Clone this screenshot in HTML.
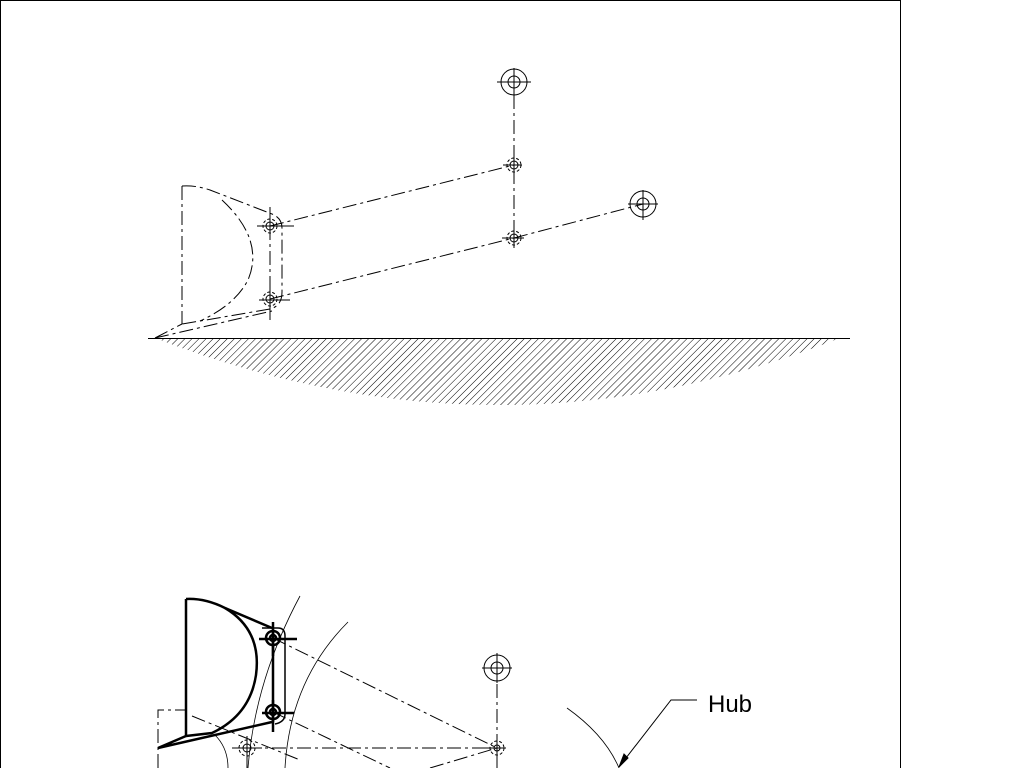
<!DOCTYPE html>
<html><head><style>html,body{margin:0;padding:0;background:#fff;width:1024px;height:768px;overflow:hidden}</style></head>
<body>
<svg width="1024" height="768" viewBox="0 0 1024 768" xmlns="http://www.w3.org/2000/svg" font-family="Liberation Sans, sans-serif">
<defs>
<pattern id="h" width="5" height="5" patternUnits="userSpaceOnUse" patternTransform="rotate(45)">
<line x1="0" y1="0" x2="0" y2="5" stroke="#000" stroke-width="1"/>
</pattern>
<clipPath id="c"><path d="M155 338 L840 338 Q500 472 155 338 Z"/></clipPath>
</defs>
<g fill="none" stroke="#000">
<line x1="0" y1="0.5" x2="900" y2="0.5"/>
<line x1="900.5" y1="0" x2="900.5" y2="768"/>
<line x1="0.5" y1="0" x2="0.5" y2="768"/>

<rect x="150" y="338" width="700" height="80" fill="url(#h)" stroke="none" clip-path="url(#c)"/>
<line x1="148" y1="338.5" x2="850" y2="338.5"/>
<g stroke-dasharray="14,4,3,4">
<line x1="514" y1="95" x2="514" y2="238"/>
<line x1="270" y1="226" x2="514" y2="165"/>
<line x1="270" y1="299" x2="514" y2="238"/>
<line x1="514" y1="238" x2="643" y2="204"/>
<line x1="182" y1="186" x2="182" y2="324"/>
<path d="M182 186 Q195 185 210 190 L272 214 Q282 218 282 228 L282 292 Q282 306 270 309 L200 321 L182 324"/>
<path d="M222 200 Q265 240 248 280 Q235 305 200 321"/>
<path d="M155 338 L182 324 M155 338 L272 311"/>
<line x1="270" y1="226" x2="270" y2="299"/>
</g>
<g>
<circle cx="514" cy="82" r="13"/><circle cx="514" cy="82" r="6"/>
<line x1="497" y1="82" x2="531" y2="82"/><line x1="514" y1="68" x2="514" y2="96"/>
<circle cx="643" cy="204" r="13"/><circle cx="643" cy="204" r="6"/>
<line x1="628" y1="204" x2="658" y2="204"/><line x1="643" y1="190" x2="643" y2="220"/>
<circle cx="514" cy="165" r="7" stroke-dasharray="3,2"/><circle cx="514" cy="165" r="4"/>
<line x1="503" y1="165" x2="522" y2="165"/><line x1="514" y1="157" x2="514" y2="173"/>
<circle cx="514" cy="238" r="7" stroke-dasharray="3,2"/><circle cx="514" cy="238" r="4"/>
<line x1="502" y1="238" x2="524" y2="238"/><line x1="514" y1="229" x2="514" y2="248"/>
<circle cx="270" cy="226" r="7" stroke-dasharray="3,2"/><circle cx="270" cy="226" r="4"/>
<line x1="257" y1="226" x2="294" y2="226"/><line x1="270" y1="207" x2="270" y2="234"/>
<circle cx="270" cy="299" r="7" stroke-dasharray="3,2"/><circle cx="270" cy="299" r="4"/>
<line x1="259" y1="300" x2="290" y2="300"/><line x1="270" y1="290" x2="270" y2="320"/>
</g>

<g stroke-width="0.8">
<path d="M300 596 Q255 680 248 768"/>
<path d="M348 622 Q290 680 285 768"/>
<path d="M215 735 Q228 748 228 768"/>
<path d="M567 708 Q605 735 619 768"/>
</g>
<g stroke-dasharray="14,4,3,4">
<line x1="273" y1="638" x2="497" y2="748"/>
<line x1="273" y1="712" x2="390" y2="768"/>
<line x1="247" y1="748" x2="497" y2="748"/>
<line x1="430" y1="768" x2="497" y2="748"/>
<line x1="497" y1="684" x2="497" y2="768"/>
<path d="M158 768 L158 710 L185 710"/>
<line x1="192" y1="716" x2="300" y2="760"/>
</g>
<g stroke-width="2.5">
<line x1="186" y1="599" x2="186" y2="736"/>
<path d="M186 599 Q205 598 225 608 L272 628"/>
<path d="M225 608 Q262 630 256 675 Q250 715 212 733 L186 736"/>
<path d="M158 748 L186 736 M158 748 L272 722"/>
<line x1="273" y1="630" x2="273" y2="722"/>
</g>
<path d="M262 628 L278 628 Q285 628 285 636 L285 714 Q285 722 275 724" stroke-width="1.5"/>
<g stroke-width="2.5">
<circle cx="273" cy="638" r="7"/><circle cx="273" cy="638" r="3"/>
<line x1="259" y1="639" x2="297" y2="639"/><line x1="273" y1="622" x2="273" y2="656"/>
<circle cx="273" cy="712" r="7"/><circle cx="273" cy="712" r="3"/>
<line x1="262" y1="713" x2="294" y2="713"/><line x1="273" y1="700" x2="273" y2="732"/>
</g>
<circle cx="497" cy="668" r="13"/><circle cx="497" cy="668" r="6"/>
<line x1="482" y1="668" x2="512" y2="668"/><line x1="497" y1="653" x2="497" y2="683"/>
<circle cx="497" cy="748" r="7" stroke-dasharray="3,2"/><circle cx="497" cy="748" r="3"/>
<line x1="485" y1="748" x2="506" y2="748"/><line x1="497" y1="740" x2="497" y2="768"/>
<circle cx="247" cy="748" r="8" stroke-dasharray="3,2"/><circle cx="247" cy="748" r="4"/>
<line x1="232" y1="748" x2="262" y2="748"/><line x1="247" y1="736" x2="247" y2="768"/>

<path d="M619 767 L671 700 L697 700"/>
<path d="M619 767 L624 754 L628 758 Z" fill="#000"/>
</g>
<text x="708" y="712" font-size="24" fill="#000">Hub</text>
</svg>
</body></html>
